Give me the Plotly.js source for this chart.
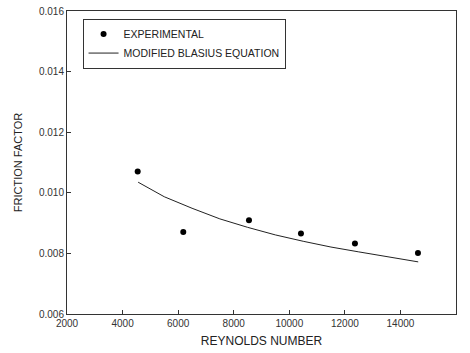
<!DOCTYPE html>
<html>
<head>
<meta charset="utf-8">
<script src="https://cdn.plot.ly/plotly-3.0.1.min.js"></script>
<style>html,body{margin:0;padding:0;background:#fff;}#chart{width:470px;height:353px;}</style>
</head>
<body>
<div id="chart"></div>
<script>
// Experimental points
var expRe = [4544, 6185, 8549, 10420, 12363, 14631];
var expF = [0.01070, 0.00871, 0.00909, 0.00866, 0.00833, 0.00801];
// Modified Blasius equation curve
var blasRe = [4560, 5500, 6500, 7500, 8500, 9500, 10500, 11500, 12500, 13500, 14640];
var blasF = [0.01035, 0.00987, 0.00949, 0.00914, 0.00886, 0.00861, 0.00840, 0.00821, 0.00805, 0.00789, 0.00772];
var xTicks = [2000, 4000, 6000, 8000, 10000, 12000, 14000, 16000];
var yTicks = [0.006, 0.008, 0.010, 0.012, 0.014, 0.016];

var traces = [
  {x: expRe, y: expF, mode: 'markers', type: 'scatter', name: 'EXPERIMENTAL',
   marker: {color: '#000', size: 6, symbol: 'circle'}},
  {x: blasRe, y: blasF, mode: 'lines', type: 'scatter', name: 'MODIFIED BLASIUS EQUATION',
   line: {color: '#222', width: 1, shape: 'linear'}}
];
var axisCommon = {showgrid: false, zeroline: false, showline: true, linecolor: '#333', linewidth: 1,
  mirror: true, ticks: 'inside', ticklen: 4, tickcolor: '#333',
  tickfont: {family: 'Liberation Sans, Arial, sans-serif', size: 10, color: '#333'}};
var layout = {
  width: 470, height: 353,
  margin: {l: 67, r: 14, t: 11, b: 39},
  paper_bgcolor: '#fff', plot_bgcolor: '#fff',
  showlegend: true,
  legend: {x: 0.04, y: 0.975, xanchor: 'left', yanchor: 'top', bordercolor: '#333', borderwidth: 1,
    bgcolor: '#fff', font: {family: 'Liberation Sans, Arial, sans-serif', size: 10.5, color: '#222'},
    tracegroupgap: 0, itemwidth: 30},
  xaxis: Object.assign({}, axisCommon, {range: [2000, 16000], tickvals: xTicks,
    ticktext: xTicks.map(String),
    title: {text: 'REYNOLDS NUMBER', standoff: 8, font: {family: 'Liberation Sans, Arial, sans-serif', size: 12, color: '#222'}}}),
  yaxis: Object.assign({}, axisCommon, {range: [0.006, 0.016], tickvals: yTicks,
    ticktext: yTicks.map(function(v){return v.toFixed(3);}),
    title: {text: 'FRICTION FACTOR', standoff: 14, font: {family: 'Liberation Sans Narrow, Liberation Sans, Arial, sans-serif', size: 11, color: '#222'}}})
};
Plotly.newPlot('chart', traces, layout, {displayModeBar: false, staticPlot: true});
</script>
</body>
</html>
